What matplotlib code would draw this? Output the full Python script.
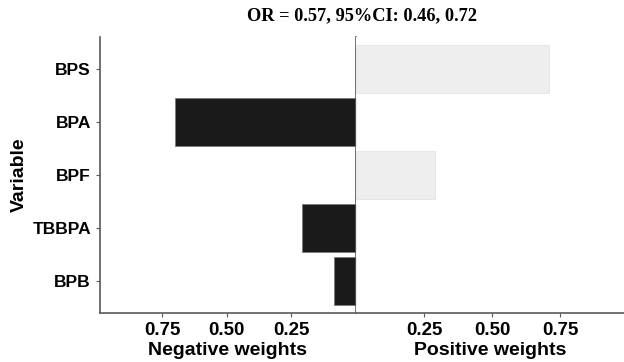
import matplotlib
matplotlib.use("Agg")
import matplotlib.pyplot as plt

variables = ["BPS", "BPA", "BPF", "TBBPA", "BPB"]  # top to bottom
neg_weights = [0.0, 0.70, 0.0, 0.21, 0.085]
pos_weights = [0.71, 0.0, 0.29, 0.0, 0.0]
neg_ticks = [0.25, 0.50, 0.75]
pos_ticks = [0.25, 0.50, 0.75]
title = "OR = 0.57, 95%CI: 0.46, 0.72"

sans = ["Liberation Sans", "DejaVu Sans"]
serif = ["Liberation Serif", "DejaVu Serif"]

W, H = 624, 362
fig = plt.figure(figsize=(W / 100, H / 100), dpi=100)

x0, xm, x1 = 100, 356, 624
ytop, ybot = 37, 313
axL = fig.add_axes([x0 / W, (H - ybot) / H, (xm - x0) / W, (ybot - ytop) / H])
axR = fig.add_axes([xm / W, (H - ybot) / H, (x1 - xm) / W, (ybot - ytop) / H])

n = len(variables)
ypos = list(range(n - 1, -1, -1))

spine_col = "#5a5a5a"
axL.barh(ypos, neg_weights, height=0.9, color="#1a1a1a", edgecolor="#7a7a7a", linewidth=0.6)
axR.barh(ypos, pos_weights, height=0.9, color="#eeeeee", edgecolor="#e4e4e4", linewidth=0.6)

axL.set_xlim(0.99, 0)
axR.set_xlim(0, (x1 - xm) / 272)
for ax in (axL, axR):
    ax.set_ylim(-0.6, n - 0.4)
    for s in ax.spines.values():
        s.set_color(spine_col)
        s.set_linewidth(1.2)
    ax.tick_params(axis="both", colors=spine_col, length=3, width=0.8, labelcolor="black")

axL.spines["top"].set_visible(False)
axR.spines["top"].set_visible(False)
axR.spines["right"].set_visible(False)
axR.spines["left"].set_visible(False)

axL.set_yticks(ypos)
axL.set_yticklabels(variables, fontfamily=sans, fontweight="bold", fontsize=12.5)
axR.set_yticks([])

axL.set_xticks(neg_ticks)
axL.set_xticklabels([f"{t:.2f}" for t in neg_ticks], fontfamily=sans, fontweight="bold", fontsize=13.5)
axR.set_xticks(pos_ticks)
axR.set_xticklabels([f"{t:.2f}" for t in pos_ticks], fontfamily=sans, fontweight="bold", fontsize=13.5)

axL.set_xlabel("Negative weights", fontfamily=sans, fontweight="bold", fontsize=14, labelpad=2)
axR.set_xlabel("Positive weights", fontfamily=sans, fontweight="bold", fontsize=14, labelpad=2)
axL.set_ylabel("Variable", fontfamily=sans, fontweight="bold", fontsize=14, labelpad=3)

fig.text((x0 + x1) / 2 / W, 1 - 16 / H, title, ha="center", va="center",
         fontfamily=serif, fontweight="bold", fontsize=13.2)

fig.savefig("out.png", dpi=100)
